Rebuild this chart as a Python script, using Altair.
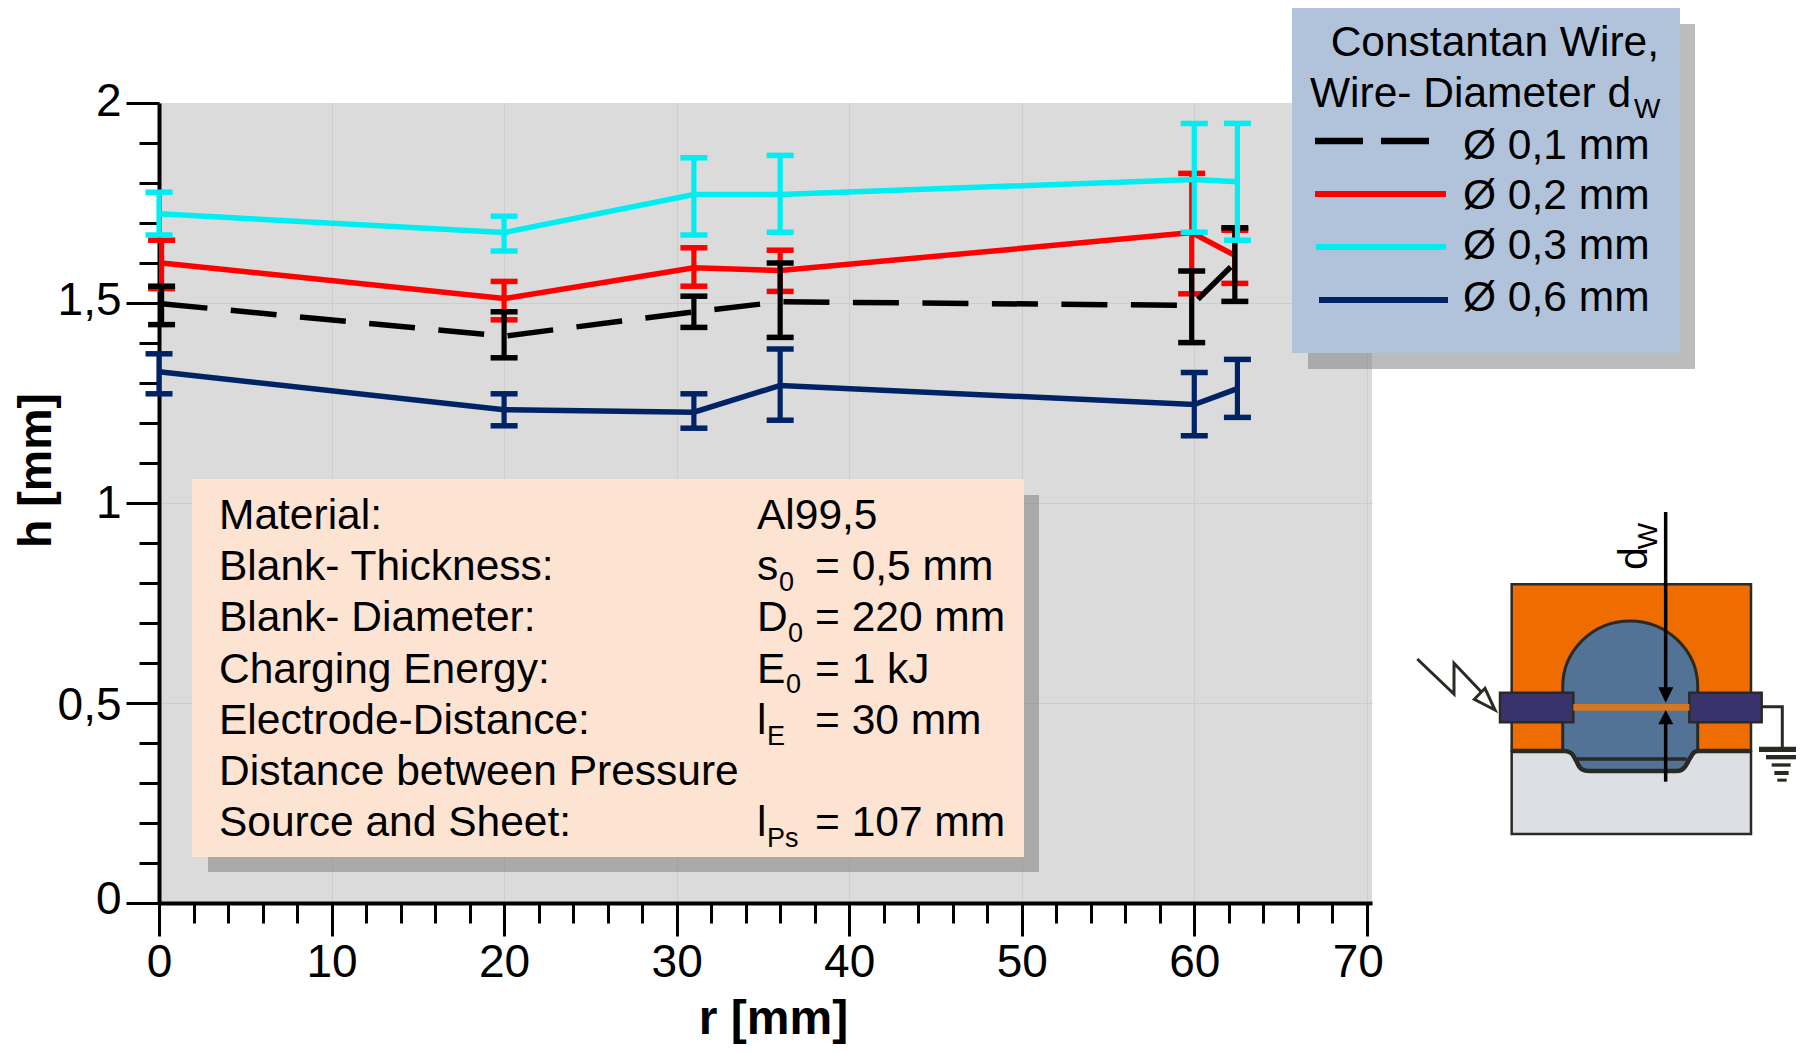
import altair as alt
import pandas as pd

FONT = "Liberation Sans"
X0, Y0 = 159, 103          # reference-pixel position of the plot origin (top-left)
PLOT_W, PLOT_H = 1213, 800

# ---- chart values -----------------------------------------------------------
r_left = [0.15, 20, 31, 36, 59.85, 62.35]
r_right = [0, 20, 31, 36, 60, 62.5]

h_01 = [1.498, 1.417, 1.478, 1.503, 1.494, 1.60]
h_01_lo = [1.446, 1.363, 1.439, 1.414, 1.401, 1.504]
h_01_hi = [1.542, 1.478, 1.517, 1.600, 1.580, 1.688]

h_02 = [1.600, 1.511, 1.588, 1.581, 1.676, 1.619]
h_02_lo = [1.536, 1.458, 1.542, 1.529, 1.523, 1.549]
h_02_hi = [1.657, 1.554, 1.638, 1.632, 1.824, 1.682]

h_03 = [1.723, 1.676, 1.771, 1.771, 1.809, 1.803]
h_03_lo = [1.670, 1.630, 1.670, 1.677, 1.677, 1.657]
h_03_hi = [1.777, 1.717, 1.863, 1.869, 1.949, 1.949]

h_06 = [1.328, 1.233, 1.227, 1.294, 1.246, 1.286]
h_06_lo = [1.273, 1.193, 1.187, 1.207, 1.168, 1.214]
h_06_hi = [1.373, 1.273, 1.273, 1.385, 1.326, 1.359]

x_ticks = list(range(0, 72, 2))
y_ticks = [0, 0.1, 0.2, 0.3, 0.4, 0.5, 0.6, 0.7, 0.8, 0.9, 1, 1.1, 1.2, 1.3, 1.4,
           1.5, 1.6, 1.7, 1.8, 1.9, 2]

material_left = ["Material:", "Blank- Thickness:", "Blank- Diameter:", "Charging Energy:",
                 "Electrode-Distance:", "Distance between Pressure", "Source and Sheet:"]

BLACK, RED, CYAN, NAVY = "#000000", "#ff0000", "#00eef2", "#002366"
DARK = "#2a2a25"
TXT = 42.5
SUB = 27

x_scale = alt.Scale(domain=[0, 70.3], nice=False, zero=False)
y_scale = alt.Scale(domain=[0, 2], nice=False, zero=False)

x_axis = alt.Axis(
    title="r [mm]", titleFont=FONT, titleFontSize=48, titleFontWeight="bold", titleColor="black",
    titleX=773 - X0, titleY=1033 - (Y0 + PLOT_H), titleAlign="center", titleBaseline="alphabetic",
    values=x_ticks, tickCount=100, labelFont=FONT, labelFontSize=46, labelColor="black",
    labelExpr="datum.value % 10 == 0 ? '' + datum.value : ''",
    labelOverlap=False, labelFlush=False, labelPadding=4,
    labelOffset={"condition": {"test": "datum.value == 70", "value": -9}, "value": 0},
    domainColor="black", domainWidth=4, tickColor="black", tickWidth=3,
    tickSize={"condition": {"test": "datum.value % 10 == 0", "value": 33}, "value": 20},
    grid=True, gridColor="#cdcdcd", gridWidth=1,
    gridOpacity={"condition": {"test": "datum.value % 10 == 0 && datum.value > 0", "value": 1}, "value": 0},
)
y_axis = alt.Axis(
    title="h [mm]", titleFont=FONT, titleFontSize=46.5, titleFontWeight="bold", titleColor="black",
    titleX=50 - X0, titleY=470 - Y0, titleAngle=-90, titleAlign="center", titleBaseline="alphabetic",
    values=y_ticks, tickCount=100, labelFont=FONT, labelFontSize=46, labelColor="black",
    labelExpr="abs(datum.value * 2 - round(datum.value * 2)) < 0.001 ? replace('' + datum.value, '.', ',') : ''",
    labelOverlap=False, labelFlush=False, labelPadding=5,
    labelOffset={"condition": [
        {"test": "datum.value == 0", "value": -4},
        {"test": "datum.value == 0.5", "value": 2},
        {"test": "datum.value == 1.5", "value": -3},
        {"test": "datum.value == 2", "value": -2},
    ], "value": 0},
    domainColor="black", domainWidth=4, tickColor="black", tickWidth=3,
    tickSize={"condition": {"test": "abs(datum.value * 2 - round(datum.value * 2)) < 0.001", "value": 33}, "value": 20},
    grid=True, gridColor="#cdcdcd", gridWidth=1,
    gridOpacity={"condition": {"test": "abs(datum.value * 2 - round(datum.value * 2)) < 0.001 && datum.value > 0 && datum.value < 2", "value": 1}, "value": 0},
)

one = pd.DataFrame({"_": [0]})


def series(r, h, lo, hi, color, dash=None):
    df = pd.DataFrame({"r": r, "h": h, "lo": lo, "hi": hi})
    x = alt.X("r:Q", scale=x_scale, axis=x_axis)
    y = alt.Y("h:Q", scale=y_scale, axis=y_axis)
    kw = {"strokeDash": dash} if dash else {}
    line = alt.Chart(df).mark_line(color=color, strokeWidth=5.5, clip=False, **kw).encode(x=x, y=y)
    stem = alt.Chart(df).mark_rule(color=color, strokeWidth=5.2, opacity=1).encode(
        x=alt.X("r:Q", scale=x_scale), y=alt.Y("lo:Q", scale=y_scale), y2="hi:Q")
    cap_lo = alt.Chart(df).mark_tick(color=color, orient="horizontal", size=27, thickness=5.5, opacity=1).encode(
        x=alt.X("r:Q", scale=x_scale), y=alt.Y("lo:Q", scale=y_scale))
    cap_hi = alt.Chart(df).mark_tick(color=color, orient="horizontal", size=27, thickness=5.5, opacity=1).encode(
        x=alt.X("r:Q", scale=x_scale), y=alt.Y("hi:Q", scale=y_scale))
    return [line, stem, cap_lo, cap_hi]


def px(x):
    return alt.value(x - X0)


def py(y):
    return alt.value(y - Y0)


def box(x0, y0, x1, y1, fill, opacity=1.0, stroke=None, sw=0):
    kw = {"stroke": stroke, "strokeWidth": sw} if stroke else {}
    return alt.Chart(one).mark_rect(fill=fill, opacity=opacity, **kw).encode(
        x=px(x0), x2=px(x1), y=py(y0), y2=py(y1))


def seg(x0, y0, x1, y1, color, sw):
    return alt.Chart(one).mark_rule(color=color, strokeWidth=sw, opacity=1).encode(
        x=px(x0), x2=px(x1), y=py(y0), y2=py(y1))


def text(s, x, y, size, align="left", weight="normal", angle=0):
    return alt.Chart(one).mark_text(
        text=s, font=FONT, fontSize=size, align=align, baseline="alphabetic",
        fontWeight=weight, color="black", angle=angle).encode(x=px(x), y=py(y))


def shape(path, fill=None, stroke=None, sw=0):
    # a custom symbol of size 4 is drawn at scale 1, so the path is in pixels
    kw = {"filled": True, "fill": fill} if fill else {"filled": False, "fill": "transparent"}
    if stroke:
        kw.update(stroke=stroke, strokeWidth=sw)
    else:
        kw.update(strokeWidth=0)
    return alt.Chart(one).mark_point(shape=path, size=4, opacity=1, **kw).encode(x=alt.value(0), y=alt.value(0))


def zx(z):
    return 1380 + z / 3 - X0


def zy(z):
    return 490 + z / 3 - Y0


def path(*cmds):
    out = []
    for c in cmds:
        if isinstance(c, str):
            out.append(c)
        else:
            out.append(f"{zx(c[0]):.1f},{zy(c[1]):.1f}")
    return " ".join(out)


layers = []
layers += series(r_left, h_02, h_02_lo, h_02_hi, RED)
layers += series(r_left, h_01, h_01_lo, h_01_hi, BLACK, dash=[46, 23.5])
layers += series(r_right, h_03, h_03_lo, h_03_hi, CYAN)
layers += series(r_right, h_06, h_06_lo, h_06_hi, NAVY)

# material panel
layers += [box(208, 495, 1039, 872, "#767676", 0.49), box(192, 479, 1024, 857, "#fde3d2")]
left_base = [529, 580, 631, 683, 734, 785, 836]
for s, b in zip(material_left, left_base):
    layers.append(text(s, 219, b, TXT))
layers += [
    text("Al99,5", 757, 529, TXT),
    text("s", 757, 580, TXT), text("0", 779, 591, SUB), text("= 0,5 mm", 815, 580, TXT),
    text("D", 757, 631, TXT), text("0", 788, 642, SUB), text("= 220 mm", 815, 631, TXT),
    text("E", 757, 683, TXT), text("0", 786, 693, SUB), text("= 1 kJ", 815, 683, TXT),
    text("l", 757, 734, TXT), text("E", 767, 745, SUB), text("= 30 mm", 815, 734, TXT),
    text("l", 757, 836, TXT), text("Ps", 767, 847, SUB), text("= 107 mm", 815, 836, TXT),
]

# legend panel
layers += [box(1308, 24, 1695, 369, "#767676", 0.49), box(1292, 8, 1680, 353, "#b0c3da")]
layers += [
    text("Constantan Wire,", 1659, 56, TXT, align="right"),
    text("Wire- Diameter d", 1310, 107, TXT), text("W", 1634, 118, 28),
    seg(1315, 141, 1363, 141, BLACK, 6.5), seg(1381, 141, 1429, 141, BLACK, 6.5),
    seg(1315, 194, 1446, 194, RED, 6), seg(1316, 247, 1446, 247, CYAN, 6),
    seg(1319, 300, 1448, 300, NAVY, 6),
    text("Ø 0,1 mm", 1463, 159, TXT), text("Ø 0,2 mm", 1463, 209, TXT),
    text("Ø 0,3 mm", 1463, 259, TXT), text("Ø 0,6 mm", 1463, 311, TXT),
]

# process sketch
dome = path("M", (548, 783), "L", (548, 590), "C", (548, 480), (640, 393), (750, 393),
            "C", (860, 393), (953, 480), (953, 590), "L", (953, 783),
            "C", (945, 783), (940, 785), (930, 805), "C", (920, 820), (915, 843), (890, 843),
            "L", (630, 843), "C", (610, 843), (600, 840), (590, 815),
            "C", (580, 800), (580, 785), (555, 783), "Z")
sheet = path("M", (395, 783), "L", (555, 783), "C", (580, 785), (580, 800), (590, 815),
             "C", (600, 840), (610, 843), (630, 843), "L", (890, 843),
             "C", (915, 843), (920, 820), (930, 805), "C", (940, 785), (945, 783), (955, 783),
             "L", (1113, 783))
bolt = path("M", (112, 507), "L", (222, 612), "L", (222, 520), "L", (310, 612))
bolt_head = path("M", (345, 660), "L", (283, 628), "L", (315, 595), "Z")
ground_wire = path("M", (1145, 650), "L", (1207, 650), "L", (1207, 775))
head_down = path("M", (835, 592), "L", (880, 592), "L", (857, 638), "Z")
head_up = path("M", (857, 660), "L", (835, 703), "L", (880, 703), "Z")


def zbox(x0, y0, x1, y1, fill, stroke=None, sw=0):
    return box(1380 + x0 / 3, 490 + y0 / 3, 1380 + x1 / 3, 490 + y1 / 3, fill, stroke=stroke, sw=sw)


layers += [
    zbox(395, 283, 1113, 783, "#ee6c00", DARK, 2.5),
    zbox(395, 785, 1113, 1032, "#dcdfe4", DARK, 2.5),
    shape(dome, fill="#527296", stroke=DARK, sw=3),
    shape(sheet, stroke=DARK, sw=4.5),
    seg(zx(590) + X0, zy(807) + Y0, zx(920) + X0, zy(807) + Y0, DARK, 3.5),
    zbox(360, 608, 580, 697, "#38336b", DARK, 2.5),
    zbox(928, 608, 1145, 697, "#38336b", DARK, 2.5),
    zbox(580, 642, 928, 662, "#d27822"),
    seg(zx(857) + X0, zy(66) + Y0, zx(857) + X0, zy(600) + Y0, "black", 3.5),
    seg(zx(857) + X0, zy(700) + Y0, zx(857) + X0, zy(875) + Y0, "black", 3.5),
    shape(head_down, fill="black"),
    shape(head_up, fill="black"),
    shape(bolt, stroke=DARK, sw=3),
    shape(bolt_head, fill="white", stroke=DARK, sw=3),
    shape(ground_wire, stroke=DARK, sw=3),
    zbox(1137, 770, 1272, 786, DARK), zbox(1158, 795, 1250, 808, DARK),
    zbox(1175, 820, 1232, 830, DARK), zbox(1183, 843, 1226, 855, DARK),
    zbox(1192, 866, 1220, 875, DARK),
    text("d", 1380 + 800 / 3, 490 + 240 / 3, 41, angle=270),
    text("W", 1380 + 830 / 3, 490 + 178 / 3, 28, angle=270),
]

chart = alt.layer(*layers).resolve_scale(x="shared", y="shared").properties(
    width=PLOT_W, height=PLOT_H,
    autosize=alt.AutoSizeParams(type="none"),
    padding={"left": X0 - 8, "top": Y0 - 8, "right": 1788 - (X0 - 8) - PLOT_W, "bottom": 1036 - (Y0 - 8) - PLOT_H},
    background="white",
).configure_view(fill="#dbdbdb", stroke=None)

chart.save("out.html", embed_options={"renderer": "svg", "actions": False})
